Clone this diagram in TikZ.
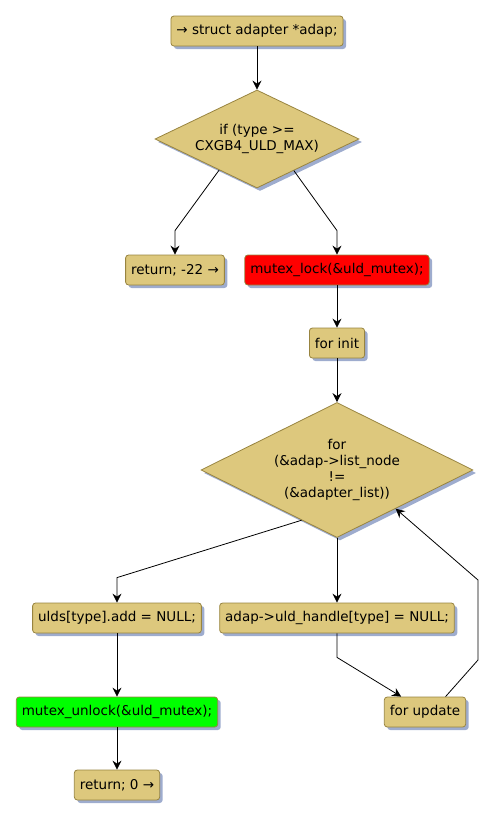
\documentclass[tikz,border=0pt]{standalone}
\usepackage{fontspec}
\setmainfont{DejaVu Sans}
\usetikzlibrary{shapes.geometric,shadows,arrows.meta,calc}
\definecolor{actfill}{RGB}{221,200,125}
\definecolor{actline}{RGB}{152,132,64}
\definecolor{actshadow}{RGB}{158,172,206}

\begin{document}
\begin{tikzpicture}[x=1pt,y=-1pt,
        font=\fontsize{13.5}{16}\selectfont,
        act/.style={draw=actline,fill=actfill,rounded corners=3pt,line width=0.8pt,
            minimum height=30pt,inner xsep=5.5pt,
            drop shadow={shadow xshift=3pt,shadow yshift=-3pt,fill=actshadow,opacity=1}},
        cond/.style={diamond,draw=actline,fill=actfill,inner sep=0pt,align=center,line width=0.8pt,
            drop shadow={shadow xshift=3pt,shadow yshift=-3pt,fill=actshadow,opacity=1}},
        flow/.style={-{Stealth[length=9pt,width=9pt,inset=3pt]},black,line width=0.8pt}]
        \useasboundingbox (0,0) rectangle (493,819);

        % Draw the nodes
        \node[act] (start) at (257,31) {→ struct adapter *adap;};
        \node[cond,aspect=2.08,minimum width=204pt,minimum height=98pt]
            (typechk) at (257,139) {if (type >=\\CXGB4\_ULD\_MAX)};
        \node[act] (retbad) at (175,270) {return; -22 →};
        \node[act,fill=red] (lock) at (337,270) {mutex\_lock(\&uld\_mutex);};
        \node[act] (forinit) at (337,343) {for init};
        \node[cond,aspect=2.01,minimum width=272pt,minimum height=135pt]
            (forchk) at (337,470) {for\\(\&adap->list\_node\\!=\\(\&adapter\_list))};
        \node[act] (uldsadd) at (117,618) {ulds[type].add = NULL;};
        \node[act] (handle) at (337,618) {adap->uld\_handle[type] = NULL;};
        \node[act] (forupd) at (425,712) {for update};
        \node[act,fill=green] (unlock) at (117,712) {mutex\_unlock(\&uld\_mutex);};
        \node[act] (retok) at (117,785) {return; 0 →};

        % Draw the arrows
        \draw[flow] (start) -- (typechk);
        \draw[flow]
            ($(typechk.west)!0.63!(typechk.south)$)
            -- ([yshift=24pt]retbad.north)
            -- (retbad.north);
        \draw[flow]
            ($(typechk.east)!0.64!(typechk.south)$)
            -- ([yshift=24pt]lock.north)
            -- (lock.north);
        \draw[flow] (lock) -- (forinit);
        \draw[flow] (forinit) -- (forchk);
        \draw[flow]
            ($(forchk.west)!0.74!(forchk.south)$)
            -- ([yshift=25pt]uldsadd.north)
            -- (uldsadd.north);
        \draw[flow] (forchk.south) -- (handle.north);
        \draw[flow]
            (handle.south)
            -- ([yshift=-24pt]handle.south)
            -- ($(forupd.north west)!0.21!(forupd.north east)$);
        \draw[flow]
            ($(forupd.north west)!0.75!(forupd.north east)$)
            -- (478,660)
            -- (478,580)
            -- ($(forchk.east)!0.57!(forchk.south)$);
        \draw[flow] (uldsadd) -- (unlock);
        \draw[flow] (unlock) -- (retok);
\end{tikzpicture}
\end{document}
